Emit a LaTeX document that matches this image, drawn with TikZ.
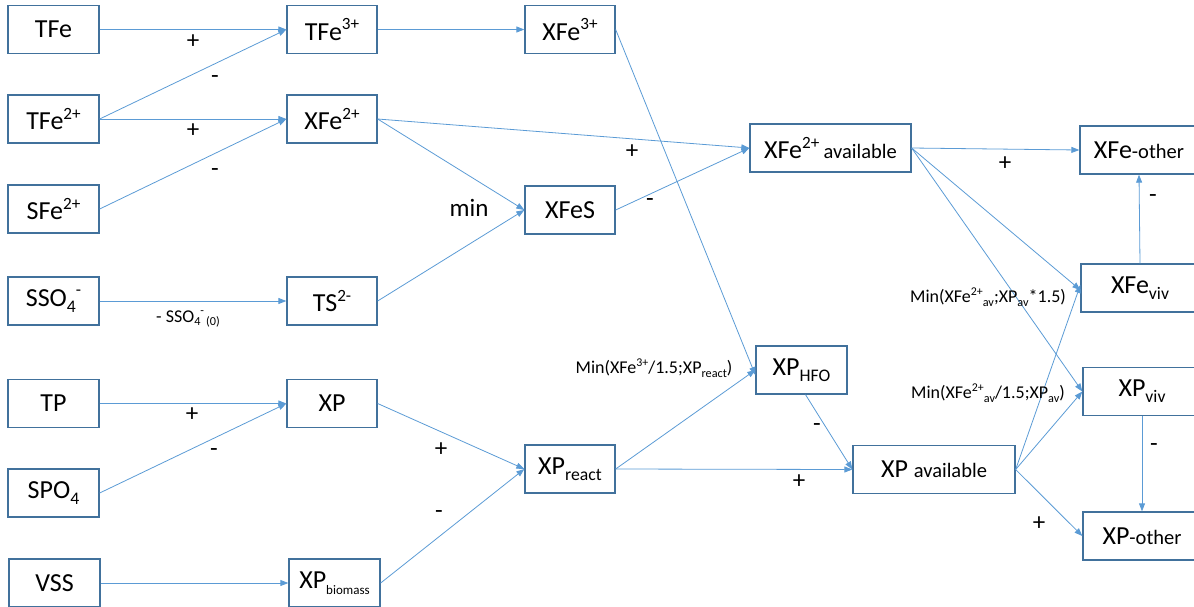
\documentclass[tikz,border=0pt]{standalone}
\usepackage{fontspec}
\setmainfont{Carlito}
\usepackage{graphicx}
\usetikzlibrary{arrows.meta}
\definecolor{linec}{RGB}{91,155,213}
\definecolor{boxc}{RGB}{65,113,156}
\newcommand{\upx}[1]{\raisebox{0.42em}{\scalebox{0.66}{#1}}}
\newcommand{\dnx}[1]{\raisebox{-0.22em}{\scalebox{0.68}{#1}}}
\newcommand{\tinyx}[1]{\raisebox{-0.25em}{\scalebox{0.5}{#1}}}
\newcommand{\smx}[1]{{\fontsize{20.5}{24}\selectfont #1}}
\begin{document}
\begin{tikzpicture}[x=1pt,y=-1pt,
  box/.style={draw=boxc, line width=1.3pt, fill=white, inner sep=0pt,
    font=\fontsize{26}{30}\selectfont, minimum height=48pt},
  arr/.style={draw=linec, line width=0.8pt, -{Triangle[length=8pt,width=6pt]}},
  sgn/.style={inner sep=0pt, font=\fontsize{25}{28}\selectfont},
  lbl/.style={inner sep=0pt, font=\fontsize{18}{22}\selectfont}]
\useasboundingbox (0,0) rectangle (1194,606);
\clip (0,0) rectangle (1194,606);
% column 1
\node[box, minimum width=91pt] (TFe)  at (53.5,29.5) {TFe};
\node[box, minimum width=91pt] (TFeb) at (53.5,119) {TFe\upx{2+}};
\node[box, minimum width=91pt] (SFe)  at (53.5,209) {SFe\upx{2+}};
\node[box, minimum width=91pt] (SSO)  at (53.5,301) {SSO\dnx{4}\upx{-}};
\node[box, minimum width=91pt] (TP)   at (53.5,403.5) {TP};
\node[box, minimum width=91pt] (SPO)  at (53.5,493) {SPO\dnx{4}};
\node[box, minimum width=91pt] (VSS)  at (54.5,583) {VSS};
% column 2
\node[box, minimum width=90pt] (TFec) at (332,29.5) {TFe\upx{3+}};
\node[box, minimum width=90pt] (XFeb) at (332,119) {XFe\upx{2+}};
\node[box, minimum width=90pt] (TS)   at (332,301) {TS\upx{2-}};
\node[box, minimum width=90pt] (XP)   at (332,403.5) {XP};
\node[box, minimum width=91pt] (XPbio) at (334.5,583) {XP\tinyx{biomass}};
% column 3
\node[box, minimum width=90pt] (XFec) at (570,29.5) {XFe\upx{3+}};
\node[box, minimum width=90pt] (XFeS) at (570,210) {XFeS};
\node[box, minimum width=90pt] (XPr)  at (570,469) {XP\dnx{react}};
% column 4
\node[box, minimum width=91pt] (XPH)  at (801.5,370) {XP\dnx{HFO}};
\node[box, minimum width=161pt] (XFeav) at (830.5,148) {XFe\upx{2+}\,\smx{available}};
\node[box, minimum width=162pt] (XPav) at (934,469.5) {XP \smx{available}};
% column 5
\node[box, minimum width=118pt] (XFeo) at (1139,150) {XFe\smx{-other}};
\node[box, minimum width=118pt] (XFev) at (1140,288) {XFe\dnx{viv}};
\node[box, minimum width=118pt] (XPv)  at (1142,391.5) {XP\dnx{viv}};
\node[box, minimum width=118pt] (XPo)  at (1142,536) {XP\smx{-other}};
% connectors
\draw[arr] (TFe.east) -- (TFec.west);
\draw[arr] (TFeb.east) -- (TFec.west);
\draw[arr] (TFeb.east) -- (XFeb.west);
\draw[arr] (SFe.east) -- (XFeb.west);
\draw[arr] (SSO.east) -- (TS.west);
\draw[arr] (TP.east) -- (XP.west);
\draw[arr] (SPO.east) -- (XP.west);
\draw[arr] (VSS.east) -- (XPbio.west);
\draw[arr] (TFec.east) -- (XFec.west);
\draw[arr] (XFec.east) -- ([yshift=-5pt]XPH.west);
\draw[arr] (XFeb.east) -- (XFeav.west);
\draw[arr] (XFeb.east) -- (XFeS.west);
\draw[arr] (TS.east) -- (XFeS.west);
\draw[arr] (XFeS.east) -- (XFeav.west);
\draw[arr] (XP.east) -- (XPr.west);
\draw[arr] (XPbio.east) -- (XPr.west);
\draw[arr] (XPr.east) -- (XPH.west);
\draw[arr] (XPr.east) -- (XPav.west);
\draw[arr] ([xshift=4pt]XPH.south) -- (XPav.west);
\draw[arr] (XFeav.east) -- (XFeo.west);
\draw[arr] (XFeav.east) -- ([yshift=-2pt]XFev.west);
\draw[arr] (XFeav.east) -- (XPv.west);
\draw[arr] (XPav.east) -- ([yshift=3pt]XFev.west);
\draw[arr] (XPav.east) -- (XPv.west);
\draw[arr] (XPav.east) -- (XPo.west);
\draw[arr] (XFev.north) -- (XFeo.south);
\draw[arr] (XPv.south) -- (XPo.north);
% signs
\node[sgn] (s1) at (193,42) {+};
\node[sgn] (s2) at (215,80) {-};
\node[sgn] (s3) at (193,131) {+};
\node[sgn] (s4) at (215,173) {-};
\node[sgn] (s5) at (469,208) {min};
\node[sgn] (s6) at (632,152) {+};
\node[sgn] (s7) at (650,203) {-};
\node[sgn] (s8) at (1005,164) {+};
\node[sgn] (s9) at (1153,199) {-};
\node[sgn] (s10) at (192,415) {+};
\node[sgn] (s11) at (214,453) {-};
\node[sgn] (s12) at (441,450) {+};
\node[sgn] (s13) at (439,515) {-};
\node[sgn] (s14) at (817,428) {-};
\node[sgn] (s15) at (799,482) {+};
\node[sgn] (s16) at (1154,448) {-};
\node[sgn] (s17) at (1039,524) {+};
% formula labels
\node[lbl] (l1) at (188,319) {- SSO\dnx{4}\upx{-}\dnx{\,(0)}};
\node[lbl] (l2) at (654,368) {Min(XFe\upx{3+}/1.5;XP\dnx{react})};
\node[lbl] (l3) at (988,297) {Min(XFe\upx{2+}\dnx{av};XP\dnx{av}*1.5)};
\node[lbl] (l4) at (988,393) {Min(XFe\upx{2+}\dnx{av}/1.5;XP\dnx{av})};
\end{tikzpicture}
\end{document}
